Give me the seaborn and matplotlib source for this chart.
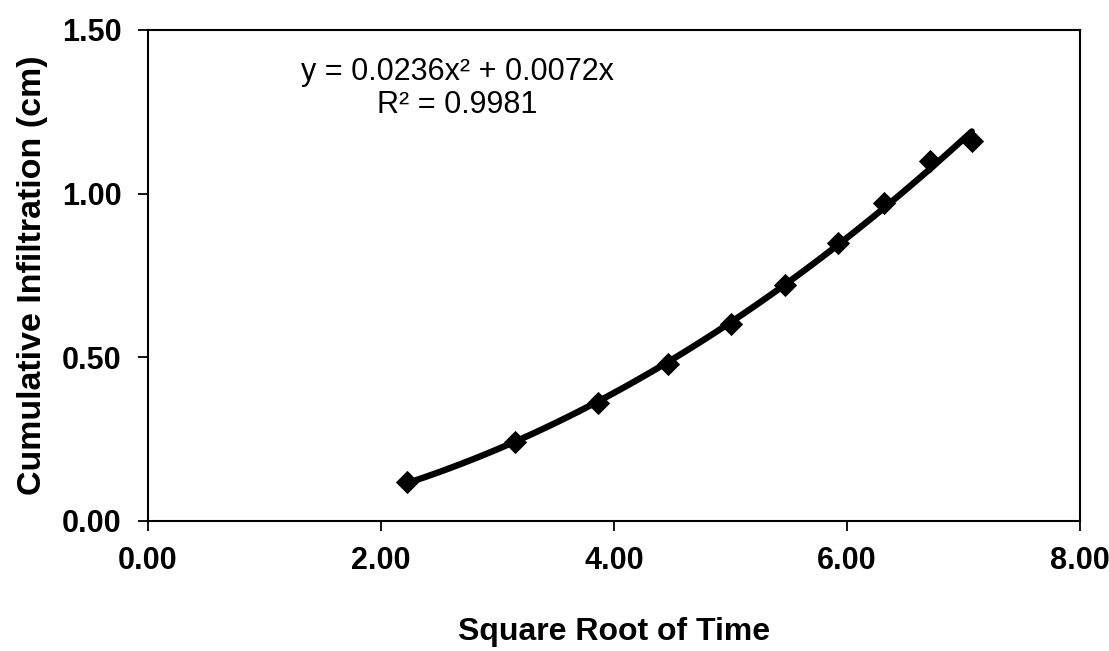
import numpy as np
import pandas as pd
import matplotlib
matplotlib.use("Agg")
import matplotlib.pyplot as plt
import seaborn as sns

# Data
sqrt_time = [2.22, 3.15, 3.86, 4.46, 5.00, 5.47, 5.92, 6.32, 6.71, 7.07]
cum_infil = [0.12, 0.24, 0.36, 0.48, 0.60, 0.72, 0.85, 0.97, 1.10, 1.16]
x_ticks = [0, 2, 4, 6, 8]
y_ticks = [0.0, 0.5, 1.0, 1.5]
eq_text = "y = 0.0236x\u00b2 + 0.0072x"
r2_text = "R\u00b2 = 0.9981"
x_label = "Square Root of Time"
y_label = "Cumulative Infiltration (cm)"

df = pd.DataFrame({"x": sqrt_time, "y": cum_infil})

sns.set_style("white")
plt.rcParams["font.family"] = ["Liberation Sans", "DejaVu Sans"]
plt.rcParams["text.color"] = "black"
plt.rcParams["axes.labelcolor"] = "black"
plt.rcParams["xtick.color"] = "black"
plt.rcParams["ytick.color"] = "black"

fig = plt.figure(figsize=(11.09, 6.51), dpi=100)
ax = fig.add_axes([0.1335, 0.2, 0.8405, 0.754])

sns.regplot(data=df, x="x", y="y", order=2, ci=None, scatter=False,
            truncate=True, color="black", line_kws={"linewidth": 4.6}, ax=ax)
sns.scatterplot(data=df, x="x", y="y", marker="D", s=140, color="black",
                edgecolor="black", linewidth=0, ax=ax, zorder=3)

ax.set_xlim(0, 8)
ax.set_ylim(0, 1.5)
ax.set_xticks(x_ticks)
ax.set_yticks(y_ticks)
ax.set_xticklabels([f"{v:.2f}" for v in x_ticks], fontsize=22, fontweight="bold",
                   color="black")
ax.set_yticklabels([f"{v:.2f}" for v in y_ticks], fontsize=22, fontweight="bold",
                   color="black")
ax.tick_params(axis="both", direction="out", length=7, width=1.3, color="black",
               labelcolor="black", left=True, bottom=True)
ax.tick_params(axis="y", pad=12)
ax.tick_params(axis="x", pad=11)

for s in ax.spines.values():
    s.set_visible(True)
    s.set_color("black")
    s.set_linewidth(1.5)

ax.set_xlabel(x_label, fontsize=23, fontweight="bold", labelpad=30, color="black")
ax.set_ylabel(y_label, fontsize=24.5, fontweight="bold", labelpad=10, color="black")

ax.text(0.332, 0.914, eq_text, transform=ax.transAxes, ha="center", va="center",
        fontsize=22, color="black")
ax.text(0.332, 0.847, r2_text, transform=ax.transAxes, ha="center", va="center",
        fontsize=22, color="black")

fig.savefig("out.png", dpi=100, facecolor="white")
